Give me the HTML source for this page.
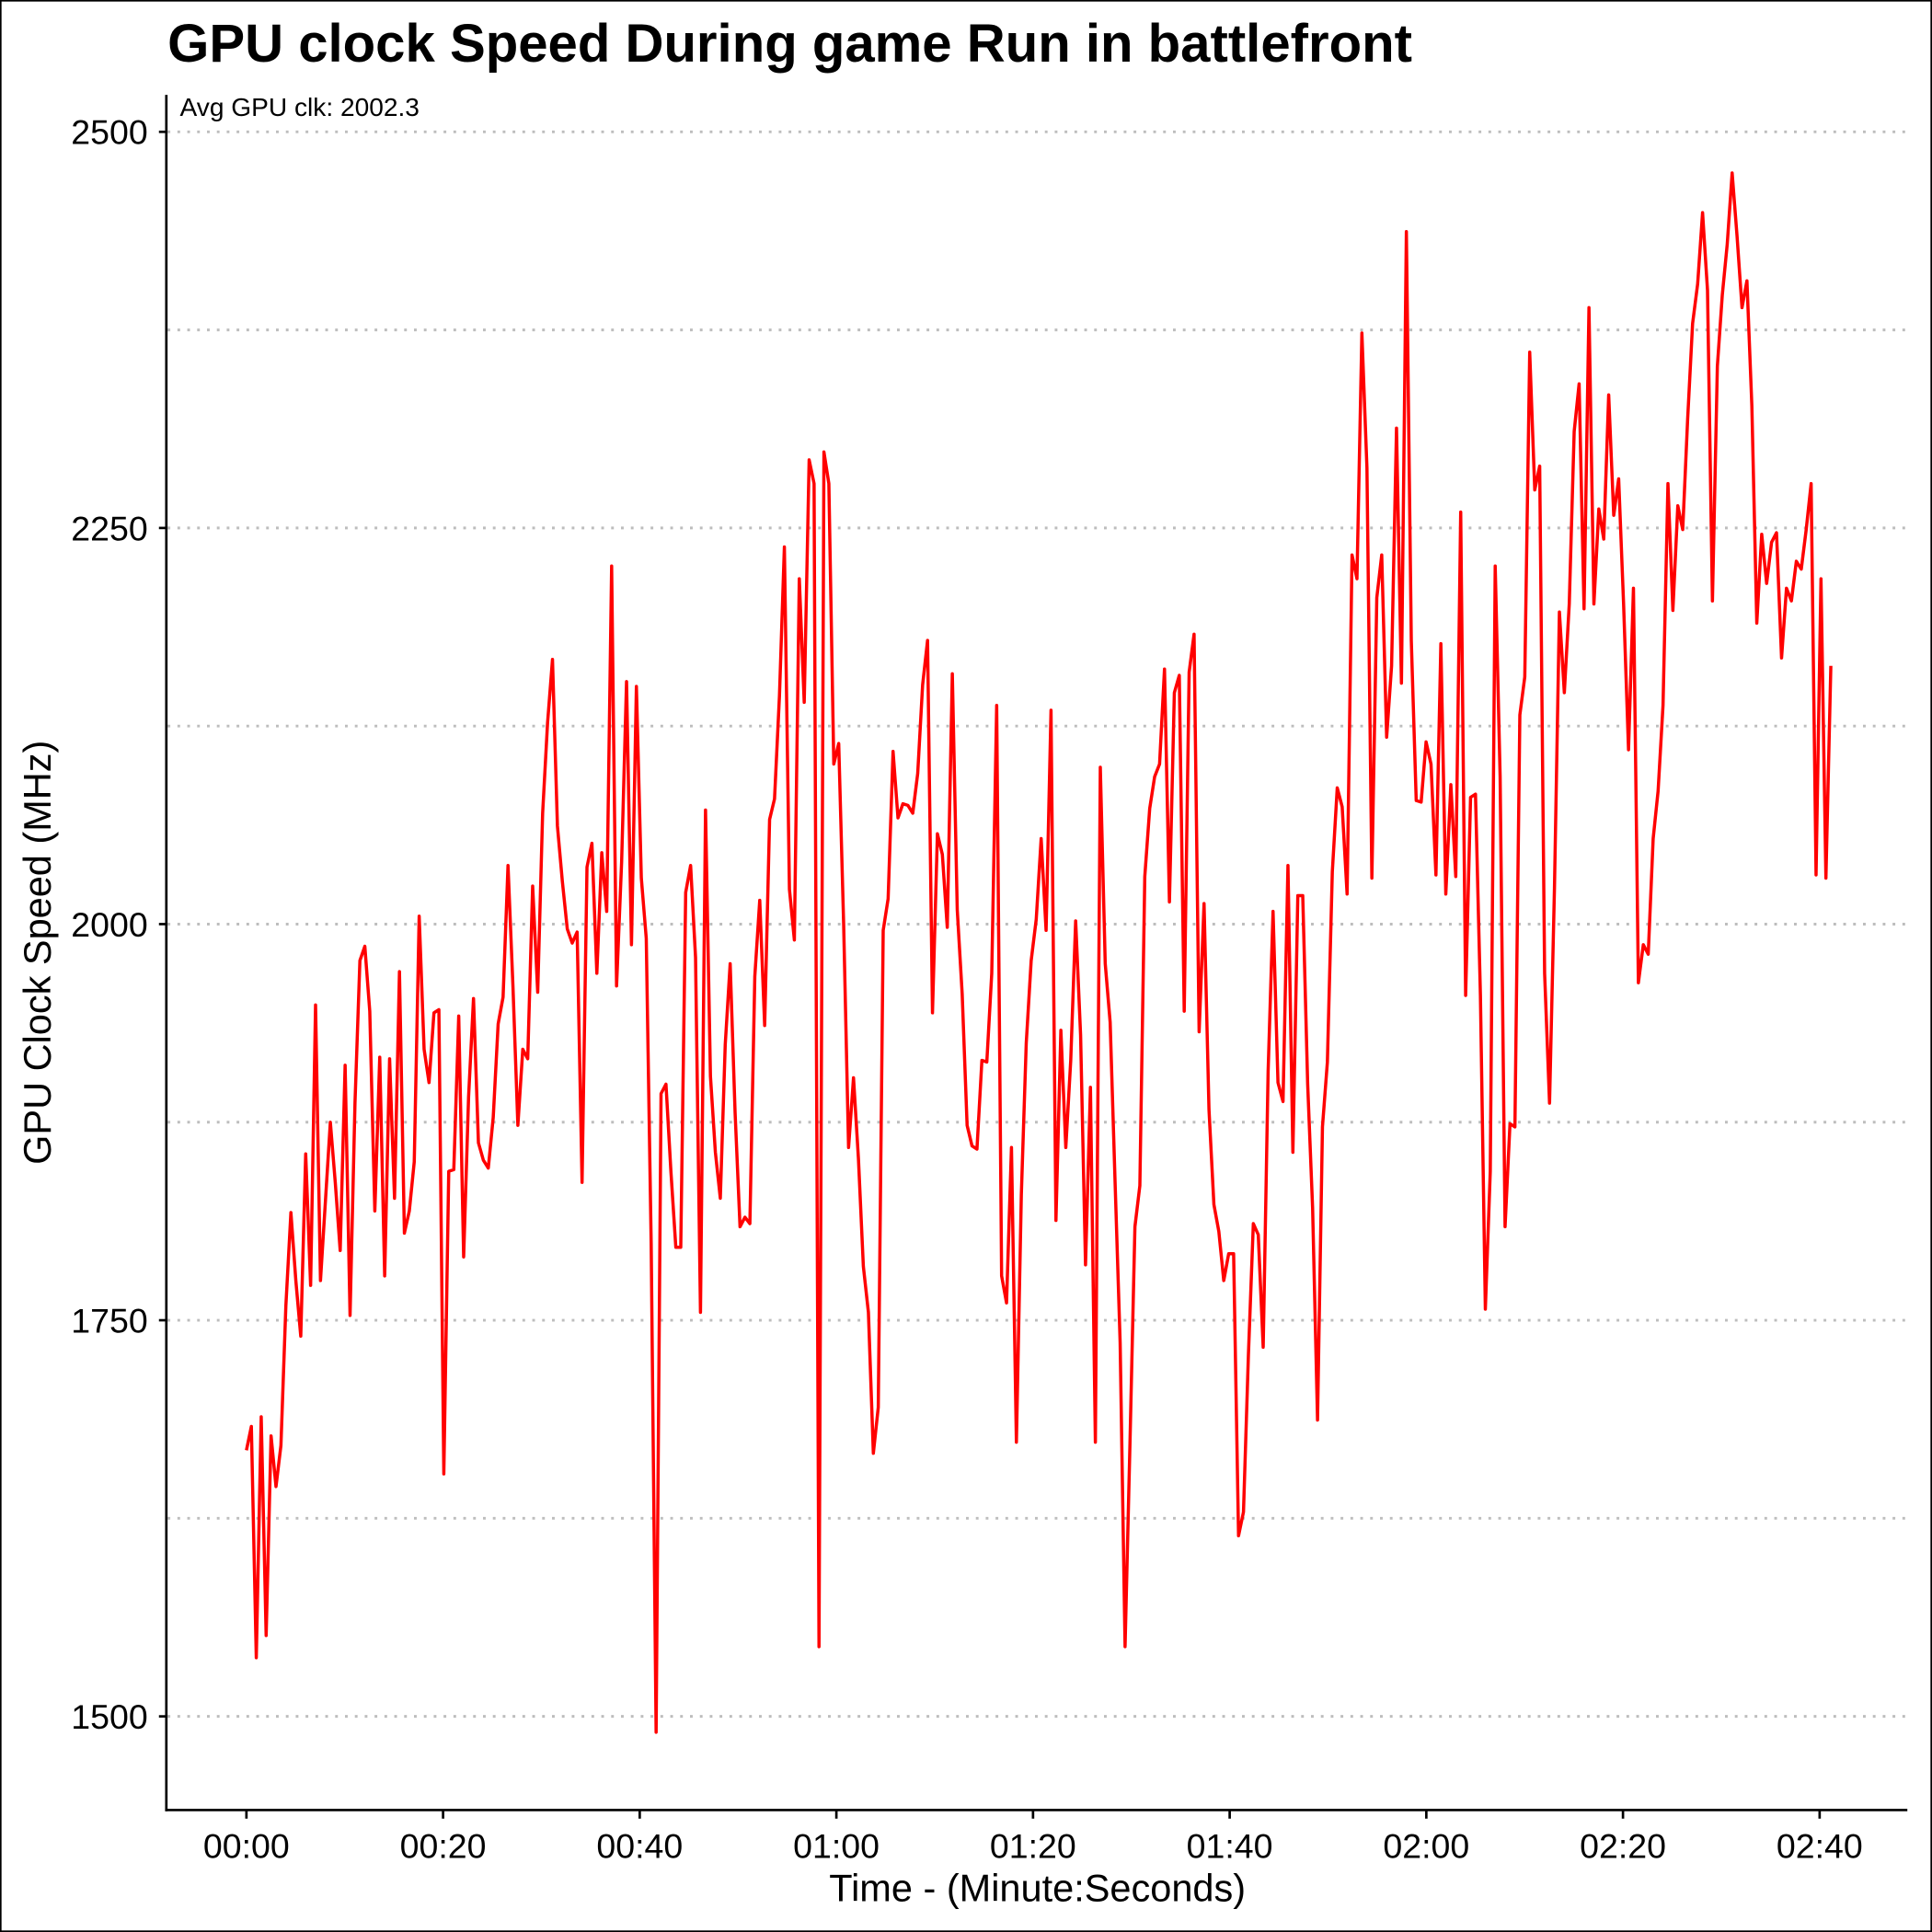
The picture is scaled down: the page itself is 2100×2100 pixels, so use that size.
<!DOCTYPE html>
<html><head><meta charset="utf-8"><style>
html,body{margin:0;padding:0;background:#fff;}
svg{display:block;}
text{font-family:"Liberation Sans",Arial,sans-serif;}
</style></head><body>
<svg id="chart" width="2100" height="2100" viewBox="0 0 1568 1568" xmlns="http://www.w3.org/2000/svg">
<rect x="0.5" y="0.5" width="1567" height="1567" fill="#fff" stroke="#000" stroke-width="1.5"/>
<text x="136" y="50" font-size="43.4" font-weight="bold">GPU clock Speed During game Run in battlefront</text>
<text x="146" y="94" font-size="21">Avg GPU clk: 2002.3</text>
<g id="grid"></g>
<g id="axes"></g>
<path id="series" fill="none" stroke="#ff0000" stroke-width="2.6" stroke-linejoin="round"/>
<text x="842" y="1543" font-size="31" text-anchor="middle">Time - (Minute:Seconds)</text>
<text transform="translate(41,773) rotate(-90)" font-size="31" text-anchor="middle">GPU Clock Speed (MHz)</text>
</svg>
<script>
const gridValues = [1500,1625,1750,1875,2000,2125,2250,2375,2500];
const yTickValues = [1500,1750,2000,2250,2500];
const xTickSeconds = [0,20,40,60,80,100,120,140,160];
const xTickLabels = ["00:00","00:20","00:40","01:00","01:20","01:40","02:00","02:20","02:40"];
const sampleInterval = 0.502;
const clockValues = [1668,1683,1537,1689,1551,1677,1645,1671,1759,1818,1775,1740,1855,1772,1949,1775,1825,1875,1837,1794,1911,1753,1887,1977,1986,1945,1819,1916,1778,1915,1827,1970,1805,1819,1850,2005,1921,1900,1944,1946,1653,1844,1845,1942,1790,1891,1953,1862,1851,1846,1878,1937,1954,2037,1961,1873,1921,1915,2024,1957,2070,2127,2167,2062,2027,1997,1988,1995,1837,2036,2051,1969,2045,2008,2226,1961,2039,2153,1987,2150,2029,1991,1798,1490,1893,1899,1844,1796,1796,2020,2037,1979,1755,2072,1904,1856,1827,1924,1975,1881,1809,1815,1811,1967,2015,1936,2066,2079,2144,2238,2022,1990,2218,2140,2293,2278,1544,2298,2278,2101,2114,2000,1859,1903,1852,1784,1755,1666,1695,1996,2016,2109,2067,2076,2075,2070,2095,2151,2179,1944,2057,2044,1998,2158,2009,1956,1873,1860,1858,1914,1913,1969,2138,1778,1761,1859,1673,1829,1925,1977,2003,2054,1996,2135,1813,1933,1859,1914,2002,1930,1785,1897,1673,2099,1975,1938,1837,1736,1544,1673,1809,1835,2030,2073,2093,2101,2161,2014,2146,2157,1945,2159,2183,1932,2013,1883,1823,1806,1775,1792,1792,1614,1629,1728,1811,1804,1733,1907,2008,1900,1888,2037,1856,2018,2018,1899,1821,1687,1872,1913,2033,2086,2074,2019,2233,2218,2373,2288,2029,2206,2233,2118,2163,2313,2152,2437,2179,2078,2077,2115,2101,2031,2177,2019,2088,2030,2260,1955,2080,2082,1955,1757,1844,2226,2093,1809,1874,1872,2132,2156,2361,2274,2289,1969,1887,2023,2197,2146,2202,2311,2341,2199,2389,2202,2262,2243,2334,2258,2281,2202,2110,2212,1963,1987,1981,2054,2084,2138,2278,2198,2264,2249,2319,2379,2404,2449,2400,2204,2352,2397,2429,2474,2434,2389,2406,2327,2190,2246,2215,2241,2247,2168,2212,2204,2229,2224,2249,2278,2031,2218,2029,2163];

const NS="http://www.w3.org/2000/svg";
const X0=200, PXS=7.98, Y2500=107, PXV=1.286;
const xs = t => X0 + t*PXS;
const ys = v => Y2500 + (2500-v)*PXV;
const grid=document.getElementById('grid'), axes=document.getElementById('axes');
function mk(tag,attrs,parent){const e=document.createElementNS(NS,tag);for(const k in attrs)e.setAttribute(k,attrs[k]);parent.appendChild(e);return e;}
gridValues.forEach(v=>{
  const l=mk('line',{x1:136,x2:1548,y1:ys(v),y2:ys(v),stroke:'#bdbdbd','stroke-width':2.2,'stroke-dasharray':'2.2 5.8'},grid);
  
  
});
let a=mk('line',{x1:135,x2:135,y1:77,y2:1470,stroke:'#000','stroke-width':2},axes);


a=mk('line',{x1:134,x2:1548,y1:1469,y2:1469,stroke:'#000','stroke-width':2},axes);


yTickValues.forEach(v=>{
  const t=mk('line',{x1:129,x2:135,y1:ys(v),y2:ys(v),stroke:'#000','stroke-width':2},axes);
  
  
  const tx=mk('text',{x:120,y:ys(v)+10,'font-size':28,'text-anchor':'end'},axes);
  tx.textContent=v;
  
  
});
xTickSeconds.forEach((s,i)=>{
  const t=mk('line',{x1:xs(s),x2:xs(s),y1:1469,y2:1476,stroke:'#000','stroke-width':2},axes);
  
  
  const tx=mk('text',{x:xs(s),y:1508,'font-size':28,'text-anchor':'middle'},axes);
  tx.textContent=xTickLabels[i];
  
  
});
let d='';
clockValues.forEach((v,i)=>{d+=(i?'L':'M')+xs(i*sampleInterval).toFixed(1)+' '+ys(v).toFixed(1);});
document.getElementById('series').setAttribute('d',d);
</script>
</body></html>
